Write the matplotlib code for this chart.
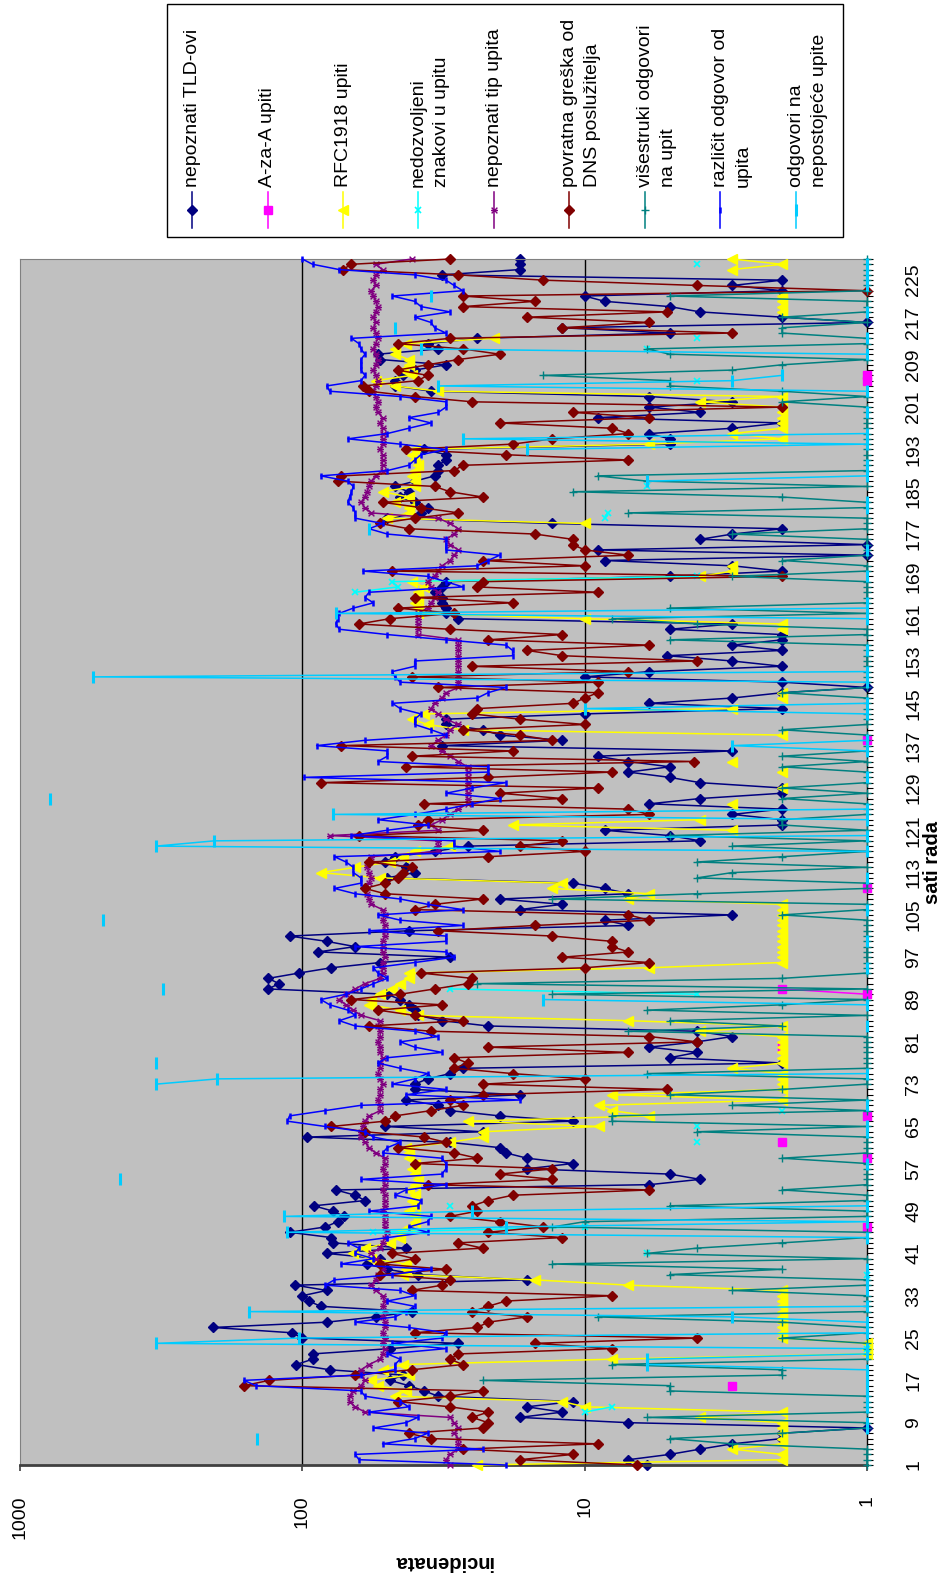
import numpy as np
import matplotlib
matplotlib.use('Agg')
import matplotlib.pyplot as plt
from matplotlib.path import Path
from matplotlib.lines import Line2D
from matplotlib.patches import Rectangle
from matplotlib.ticker import FixedLocator, NullLocator

plt.rcParams['font.family'] = ['Liberation Sans', 'DejaVu Sans']

N = None
hours = list(range(1, 230))
hour_labels = list(range(1, 230, 8))
value_ticks = [1000, 100, 10, 1]
value_labels = ['1000', '100', '10', '1']

series_names = ['nepoznati TLD-ovi', 'A-za-A upiti', 'RFC1918 upiti',
                'nedozvoljeni\nznakovi u upitu', 'nepoznati tip upita',
                'povratna greška od\nDNS poslužitelja', 'višestruki odgovori\nna upit',
                'različit odgovor od\nupita', 'odgovori na\nnepostojeće upite']

tld = [6, 7, 5, 3.9, 3, 2, 2, 1, 7, 17,
       12, 16, 11, 33, 37, 42, 49, 44, 80, 105,
       92, 92, 49, 28, 100, 109, 207, 82, 55, 41,
       86, 95, 100, 82, 106, 16, 39, 50, 59, 53,
       82, 43, 78, 79, 111, 83, 75, 71, 78, 91,
       60, 65, 76, 5.9, 3.9, 5, 16, 11, 16, 19,
       20, 30, 96, 23, 51, 11, 20, 30, 33, 43,
       17, 40, 40, 36, 30, 27, 2, 5, 4, 5.9,
       4, 3, 4, 22, 32, 39, 40, 42, 45, 50,
       132, 121, 132, 103, 79, 53, 30, 88, 65, 82,
       111, 42, 7, 8.5, 3, 17, 12, 20, 7, 8.5,
       11, 50, 40, 43, 51, 47, 34, 26, 3.9, 5,
       8.5, 2, 2, 3, 2, 5.9, 3.9, 2, 2, 3.9,
       5, 7, 5, 7, 9, 3, 32, 12, 20, 23,
       31, 31, 10, 2, 5.9, 3, 2, 1, 2, 10,
       5.9, 2, 3, 5.1, 2, 3, 2, 2, 5, 3,
       28, 31, 31, 32, 32, 34, 32, 31, 5, 2,
       3, 8.5, 1, 9, 1, 3.9, 3, 2, 13, 50,
       38, 36, 40, 45, 42, 47, 40, 34, 33, 33,
       31, 31, 37, 5, 5, 5.9, 3, 2, 9, 3.9,
       5.9, 3, 5.9, 35, 47, 47, 44, 40, 31, 53,
       54, 33, 36, 24, 5, 12, 1, 2, 3.9, 5,
       8.5, 10, 2, 3, 2, 32, 17, 17, 17]

aza_pairs = [(16, 3), (46, 1), (59, 1), (62, 2), (67, 1), (80, 2), (90, 1), (91, 2),
             (110, 1), (138, 1), (206, 1), (207, 1)]

rfc = [24, 2, 2, 3, 2, 2, 2, 2, 2, 3.9,
       2, 10, 12, 47, 43, 54, 57, 42, 52, 44,
       8, 1, 1, 1, 2, 2, 2, 2, 2, 2,
       2, 2, 2, 2, 7, 15, 44, 43, 43, 57,
       66, 60, 49, 45, 45, 42, 40, 40, 42, 40,
       41, 40, 42, 40, 39, 40, 41, 40, 42, 42,
       43, 30, 23, 23, 8.9, 26, 5.9, 8, 8.9, 2,
       8, 2, 2, 2, 2, 3, 2, 2, 2, 2,
       2, 2, 3.9, 2, 7, 39, 45, 58, 57, 53,
       48, 45, 42, 42, 5.9, 2, 2, 2, 2, 2,
       2, 2, 2, 2, 2, 2, 2, 7, 5.9, 13,
       12, 53, 86, 65, 49, 44, 40, 30, N, N,
       3, 18, 3.9, N, N, 3, N, N, 2, N,
       N, 2, N, 3, N, N, N, N, 2, 27,
       36, 41, 37, 3, N, 2, 2, N, N, N,
       N, N, N, N, N, N, N, N, 2, 2,
       10, 39, 39, 40, 39, 39, 37, 41, 3.9, 3,
       3, N, N, N, N, N, N, N, 10, 50,
       42, 42, 47, 42, 52, 40, 40, 41, 40, 39,
       40, 41, 40, 5.9, 2, 3, 2, 2, 2, 2,
       2, 3.9, 2, 33, 47, 55, 41, 44, 42, 42,
       47, 47, 43, 21, N, N, N, N, 2, 2,
       2, 2, N, N, N, N, 3, 2, 3]

znakovi_pairs = [(11, 10), (12, 8), (23, 1), (37, 1), (41, 6), (45, 56), (46, 10), (50, 30),
                 (62, 4), (65, 4), (68, 2), (90, 4), (91, 30), (166, 65), (167, 46), (168, 48),
                 (169, 4), (180, 8.5), (181, 8.3), (186, 6), (206, 4), (212, 6), (214, 4), (228, 4)]

tip = [30, 31, 30, 28, 28, 28, 29, 28, 29, 30,
       60, 65, 68, 68, 66, 62, 60, 62, 62, 58,
       53, 52, 51, 52, 51, 52, 51, 51, 52, 51,
       52, 51, 52, 55, 57, 55, 54, 52, 53, 55,
       57, 53, 52, 51, 50, 51, 51, 51, 52, 51,
       51, 51, 52, 51, 51, 51, 52, 51, 51, 55,
       58, 60, 62, 62, 61, 60, 58, 53, 53, 54,
       53, 53, 52, 53, 54, 53, 53, 52, 53, 53,
       54, 53, 53, 54, 53, 62, 66, 70, 74, 70,
       65, 60, 53, 52, 52, 52, 51, 52, 52, 52,
       51, 51, 51, 52, 51, 52, 57, 58, 59, 60,
       58, 57, 58, 59, 58, 57, 33, 33, 33, 80,
       33, 35, 32, 30, 28, 26, 26, 26, 26, 26,
       26, 26, 26, 28, 30, 32, 35, 33, 31, 30,
       28, 31, 33, 35, 34, 32, 31, 28, 28, 28,
       28, 28, 28, 28, 28, 28, 28, 39, 39, 39,
       39, 39, 36, 35, 34, 33, 35, 36, 34, 33,
       32, 30, 29, 28, 30, 31, 29, 28, 30, 33,
       57, 60, 62, 60, 59, 58, 57, 55, 52, 52,
       52, 52, 53, 52, 52, 52, 52, 53, 52, 54,
       55, 54, 55, 56, 55, 54, 55, 56, 55, 54,
       55, 56, 55, 54, 55, 56, 55, 56, 55, 54,
       55, 56, 57, 55, 56, 55, 52, 55, 41]

dns = [6.5, 17, 11, 27, 9, 35, 42, 23, 22, 25,
       22, 30, 46, 30, 23, 161, 131, 65, 41, 27,
       30, 28, 8, 15, 4, 40, 24, 22, 16, 25,
       22, 19, 8, 41, 32, 30, 53, 31, 53, 40,
       48, 23, 28, 12, 22, 14, 20, 30, 24, 25,
       22, 18, 5.9, 36, 13, 20, 13, 40, 24, 29,
       46, 31, 37, 60, 79, 51, 47, 35, 27, 30,
       23, 5.1, 23, 10, 18, 29, 26, 29, 7, 22,
       4, 5.9, 35, 58, 27, 40, 54, 32, 67, 45,
       34, 26, 25, 38, 10, 5.9, 12, 7, 8, 8,
       13, 33, 15, 5.9, 7, 40, 34, 23, 51, 60,
       51, 46, 44, 41, 58, 22, 10, 17, 12, 63,
       23, 39, 36, 5.9, 7, 37, 12, 20, 9, 86,
       22, 8, 43, 4.1, 41, 18, 73, 13, 17, 27,
       10, 17, 25, 24, 11, 10, 9, 33, 9, 41,
       7, 25, 4, 12, 16, 5.9, 22, 12, 30, 63,
       49, 29, 46, 18, 40, 9, 24, 23, 2, 48,
       10, 23, 7, 10, 11, 11, 15, 42, 53, 40,
       28, 38, 52, 23, 30, 34, 75, 73, 29, 27,
       7, 19, 43, 18, 13, 7, 8, 20, 5.9, 11,
       2, 25, 40, 58, 61, 39, 36, 46, 36, 28,
       20, 27, 46, 30, 3, 12, 5.9, 16, 5.1, 27,
       15, 27, 1, 4, 14, 28, 72, 67, 30]

visestruki = [1, 1, 1, 1, 3, 5, 2, 1, 1, 6,
              1, 1, 1, 1, 5, 5, 23, 2, 2, 8,
              1, 1, 1, 1, 2, 1, 1, 2, 9, 1,
              1, 1, 1, 3, 1, 1, 5, 2, 13, 1,
              6, 4, 2, 1, 1, 13, 10, 1, 1, 5,
              1, 1, 2, 1, 1, 1, 1, 1, 2, 1,
              1, 1, 1, 4, 1, 8, 8, 1, 3, 1,
              5, 2, 1, 1, 6, 1, 1, 1, 1, 1,
              1, 1, 7, 2, 5, 1, 6, 2, 1, 13,
              1, 24, 2, 1, 1, 1, 1, 1, 1, 1,
              1, 1, 1, 1, 2, 1, 1, 13, 4, 1,
              1, 4, 3, 1, 4, 2, 1, 3, 1, 5,
              1, 2, 2, 1, 1, 1, 2, 1, 2, 1,
              1, 1, 2, 1, 2, 1, 1, 1, 1, 2,
              1, 1, 1, 1, 1, 1, 2, 1, 1, 1,
              1, 1, 1, 1, 1, 1, 5, 1, 1, 4,
              8, 1, 5, 1, 1, 1, 1, 1, 3, 1,
              1, 2, 1, 1, 1, 1, 3, 1, 1, 1,
              7, 1, 1, 2, 11, 1, 6, 9, 1, 1,
              1, 1, 1, 1, 1, 1, 1, 1, 1, 1,
              1, 2, 1, 2, 5, 5, 14, 3, 2, 1,
              5, 6, 1, 1, 2, 2, 1, 2, 1, 1,
              1, 5, 1, 1, 1, 1, 1, 1, 1]

razlicit = [19, 63, 65, 23, 52, 40, 36, 56, 43, 39,
            58, 42, 45, 60, 62, 146, 161, 62, 47, 47,
            45, 50, 31, 48, 32, 31, 42, 65, 47, 43,
            40, 50, 40, 45, 83, 77, 48, 35, 73, 56,
            65, 63, 69, 50, 36, 42, 36, 35, 58, 39,
            38, 47, 43, 31, 62, 32, 31, 31, 32, 52,
            50, 45, 56, 60, 83, 113, 111, 83, 62, 17,
            43, 31, 48, 40, 36, 45, 54, 50, 32, 40,
            45, 33, 40, 65, 74, 65, 69, 80, 86, 70,
            62, 56, 50, 54, 56, 40, 29, 31, 65, 31,
            31, 58, 27, 45, 54, 27, 36, 45, 65, 77,
            62, 62, 66, 66, 70, 77, 20, 29, 29, 67,
            50, 36, 54, 40, 31, 25, 20, 31, 25, 19,
            99, 22, 22, 54, 50, 50, 89, 60, 31, 35,
            40, 40, 38, 45, 48, 24, 22, 19, 45, 47,
            48, 40, 40, 18, 18, 19, 31, 50, 74, 76,
            75, 74, 66, 56, 60, 58, 27, 31, 36, 61,
            24, 22, 20, 31, 31, 31, 50, 58, 52, 65,
            65, 66, 69, 68, 67, 66, 69, 86, 50, 42,
            40, 38, 31, 45, 69, 50, 42, 35, 42, 33,
            31, 31, 45, 80, 82, 62, 60, 62, 62, 62,
            60, 62, 63, 67, 31, 34, 35, 40, 30, 38,
            40, 48, 27, 29, 31, 40, 74, 92, 100]

nepostojece = [N, N, N, N, N, 145, N, 1, 1, N,
               N, 1, 1, 1, 1, 1, 1, 1, 1, 6,
               6, 1, 1, 330, 103, 1, N, 1, 3, 155,
               1, N, N, 1, 1, 1, 1, 1, N, N,
               N, N, N, 1, 113, 19, 1, 116, 25, 1,
               N, N, N, N, 443, N, N, 1, N, N,
               N, N, N, 1, 1, N, N, N, 1, N,
               N, N, 330, 200, 1, N, 330, N, N, N,
               N, N, N, 1, N, N, N, 1, 14, N,
               312, N, N, N, 1, N, N, N, N, 1,
               N, N, N, 508, N, 1, N, N, N, N,
               N, 1, N, N, N, N, 1, 330, 205, 1,
               N, N, 1, 78, 1, N, 783, N, N, N,
               1, N, N, N, N, 1, 3, 1, N, N,
               N, N, 1, 10, 1, N, N, N, 1, 550,
               1, N, N, N, 1, N, N, N, N, N,
               1, 76, 1, 1, N, N, N, N, 1, N,
               N, N, N, 1, N, N, N, 58, N, N,
               N, 1, 1, N, N, N, 6, 1, N, 1,
               N, N, 16, 1, 27, 1, N, N, N, 1,
               N, N, N, 1, 33, 3, 2, N, N, N,
               1, 38, N, 1, N, 47, N, N, 1, N,
               N, 35, N, 1, N, 1, N, 1, N]


def arr(v):
    return np.array([np.nan if x is None else x for x in v], dtype=float)


def sparse(pairs):
    a = np.full(len(hours), np.nan)
    for h, v in pairs:
        a[h - 1] = v
    return a


star = Path([(-1, -1), (1, 1), (-1, 1), (1, -1), (-1.2, 0), (1.2, 0)],
            [Path.MOVETO, Path.LINETO, Path.MOVETO, Path.LINETO, Path.MOVETO, Path.LINETO])

styles = [
    dict(color='#000080', marker='D', ms=5.5, mfc='#000080', mec='#000080'),
    dict(color='#FF00FF', marker='s', ms=6, mfc='#FF00FF', mec='#FF00FF'),
    dict(color='#FFFF00', marker='<', ms=7, mfc='#FFFF00', mec='#FFFF00'),
    dict(color='#00FFFF', marker='x', ms=5, mew=1.2),
    dict(color='#800080', marker=star, ms=5, mew=1.0),
    dict(color='#800000', marker='D', ms=5.5, mfc='#800000', mec='#800000'),
    dict(color='#008080', marker='+', ms=6, mew=1.0),
    dict(color='#0000FF', marker='|', ms=5, mew=1.8),
    dict(color='#00CCFF', marker='|', ms=8, mew=2.2),
]

data = [arr(tld), sparse(aza_pairs), arr(rfc), sparse(znakovi_pairs), arr(tip),
        arr(dns), arr(visestruki), arr(razlicit), arr(nepostojece)]

W, H = 943, 1577
fig = plt.figure(figsize=(W / 100, H / 100), dpi=100)
L, R, T, B = 20, 867, 259, 1465
ax = fig.add_axes([L / W, 1 - B / H, (R - L) / W, (B - T) / H])
ax.set_facecolor('#C0C0C0')
ax.set_xscale('log')
ax.set_xlim(1000, 1)
ax.set_ylim(1, 229)

for xv in (100, 10):
    ax.axvline(xv, color='black', lw=1.0, zorder=1)

hrs = np.array(hours, dtype=float)
for i, (vals, st) in enumerate(zip(data, styles)):
    ax.plot(vals, hrs, lw=1.1, zorder=2 + i, clip_on=False, **st)

# spines
ax.spines['left'].set_color('#808080')
ax.spines['top'].set_color('#808080')
ax.spines['bottom'].set_color('#404040')
ax.spines['bottom'].set_linewidth(2.0)
ax.spines['right'].set_color('black')
ax.spines['right'].set_linewidth(1.0)

# value axis (bottom)
ax.xaxis.set_major_locator(FixedLocator(value_ticks))
ax.xaxis.set_minor_locator(NullLocator())
ax.set_xticklabels(value_labels, rotation=90, fontsize=14)
ax.tick_params(axis='x', direction='out', length=4, width=1.2, color='#404040', pad=18)

# category axis (right)
ax.yaxis.tick_right()
ax.yaxis.set_major_locator(FixedLocator(hour_labels))
ax.yaxis.set_minor_locator(FixedLocator(hours))
ax.set_yticklabels([str(h) for h in hour_labels], rotation=90, fontsize=14, va='center')
ax.tick_params(axis='y', which='both', direction='out', length=4.5, width=0.8, color='black', pad=23)
ax.tick_params(axis='y', which='minor', labelright=False)

fig.text(933 / W, 1 - 862 / H, 'sati rada', rotation=90, ha='center', va='center',
         fontsize=14.5, fontweight='bold')
fig.text(443 / W, 1 - 1562 / H, 'incidenata', rotation=180, ha='center', va='center',
         fontsize=14.5, fontweight='bold')

# legend (rotated)
fig.add_artist(Rectangle((167 / W, 1 - 237 / H), (843 - 167) / W, (237 - 4) / H,
                         transform=fig.transFigure, facecolor='white', edgecolor='black', lw=1.0))
leg_x = [192, 267.5, 343, 418, 494, 569, 645, 720, 796]
for name, st, lx in zip(series_names, styles, leg_x):
    st2 = dict(st)
    col = st2.pop('color')
    fig.add_artist(Line2D([lx / W, lx / W], [1 - 192 / H, 1 - 228 / H], color=col, lw=1.1,
                          transform=fig.transFigure))
    fig.add_artist(Line2D([lx / W], [1 - 210 / H], color=col, lw=0, transform=fig.transFigure, **st2))
    fig.text((lx - 8) / W, 1 - 187 / H, name, rotation=90, ha='left', va='bottom',
             fontsize=14, linespacing=1.45)

fig.savefig('out.png', dpi=100, facecolor='white')
